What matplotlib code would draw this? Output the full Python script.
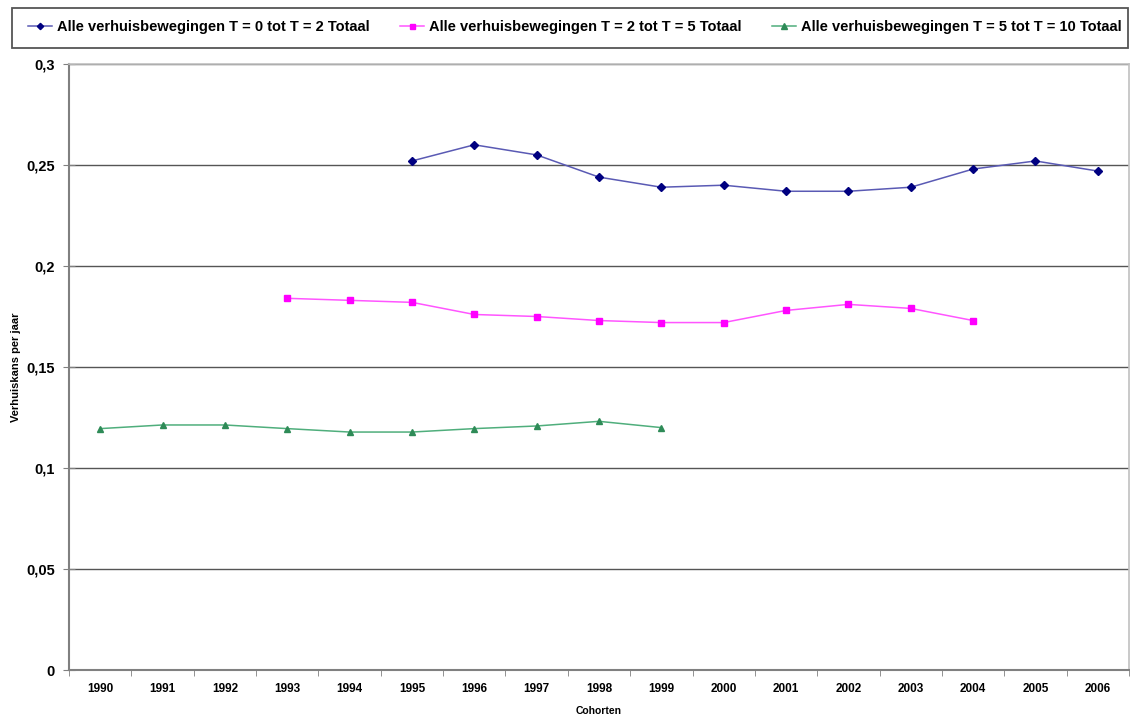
import numpy as np
import matplotlib
matplotlib.use("Agg")
import matplotlib.pyplot as plt
from matplotlib.patches import Rectangle
from matplotlib.ticker import FixedLocator, FuncFormatter

plt.rcParams['font.family'] = ['Liberation Sans', 'DejaVu Sans']

years = [str(y) for y in range(1990, 2007)]
nan = np.nan

# T = 0 tot T = 2
t0_2 = [nan, nan, nan, nan, nan,
        0.252, 0.260, 0.255, 0.244, 0.239, 0.240, 0.237, 0.237, 0.239, 0.248, 0.252, 0.247]
# T = 2 tot T = 5
t2_5 = [nan, nan, nan,
        0.184, 0.183, 0.182, 0.176, 0.175, 0.173, 0.172, 0.172, 0.178, 0.181, 0.179, 0.173,
        nan, nan]
# T = 5 tot T = 10
t5_10 = [0.1195, 0.1213, 0.1213, 0.1195, 0.1178, 0.1178, 0.1195, 0.1208, 0.1231, 0.120,
         nan, nan, nan, nan, nan, nan, nan]

labels = ["Alle verhuisbewegingen T = 0 tot T = 2 Totaal",
          "Alle verhuisbewegingen T = 2 tot T = 5 Totaal",
          "Alle verhuisbewegingen T = 5 tot T = 10 Totaal"]

fig = plt.figure(figsize=(11.3, 7.15), dpi=100)
ax = fig.add_axes([69 / 1130, 45 / 715, 1060 / 1130, 606 / 715])

x = np.arange(len(years))
lines = []
lines += ax.plot(x, t0_2, color='#5a5ab4', lw=1.1, marker='D', ms=4,
                 mfc='#000080', mec='#000080')
lines += ax.plot(x, t2_5, color='#ff55ff', lw=1.1, marker='s', ms=4.5,
                 mfc='#ff00ff', mec='#ff00ff')
lines += ax.plot(x, t5_10, color='#4fae7c', lw=1.1, marker='^', ms=5,
                 mfc='#2e8b57', mec='#2e8b57')

ax.set_xlim(-0.5, len(years) - 0.5)
ax.set_ylim(0, 0.3)

ax.set_yticks(np.arange(0, 0.301, 0.05))
ax.yaxis.set_major_formatter(FuncFormatter(
    lambda v, p: "0" if abs(v) < 1e-9 else f"{v:.2f}".rstrip('0').replace('.', ',')))
ax.grid(axis='y', color='#555555', lw=1)
ax.set_axisbelow(True)

ax.set_xticks(x)
ax.set_xticklabels(years)
ax.xaxis.set_minor_locator(FixedLocator(np.arange(-0.5, len(years), 1)))
ax.tick_params(axis='x', which='major', length=0, pad=9, labelsize=8.5)
ax.tick_params(axis='x', which='minor', length=4, direction='out', color='#808080')
ax.tick_params(axis='y', length=8, direction='inout', color='#808080', labelsize=10.5, pad=6)
for t in ax.get_xticklabels() + ax.get_yticklabels():
    t.set_fontweight('bold')

for s in ['left', 'bottom']:
    ax.spines[s].set_color('#808080')
    ax.spines[s].set_linewidth(1.5)
for s in ['top', 'right']:
    ax.spines[s].set_color('#c0c0c0')
    ax.spines[s].set_linewidth(1.2)

ax.set_xlabel("Cohorten", fontsize=7.5, fontweight='bold')
ax.xaxis.set_label_coords(0.5, -(706 - 670) / 606)
ax.set_ylabel("Verhuiskans per jaar", fontsize=8, fontweight='bold')
ax.yaxis.set_label_coords(-(69 - 21) / 1060, 0.5)

# legend box across the top
fig.patches.append(Rectangle((12 / 1130, 1 - 48 / 715), 1116 / 1130, 40 / 715,
                             transform=fig.transFigure, fill=False,
                             edgecolor='#555555', lw=1.3))
for line, lab, x0 in zip(lines, labels, [28, 400, 772]):
    fig.legend([line], [lab], loc='center left',
               bbox_to_anchor=(x0 / 1130, 1 - 27.5 / 715), frameon=False,
               prop={'size': 10.5, 'weight': 'bold'}, handlelength=1.65,
               handletextpad=0.34, borderaxespad=0, borderpad=0, markerscale=0.8)

fig.savefig("out.png", dpi=100)
